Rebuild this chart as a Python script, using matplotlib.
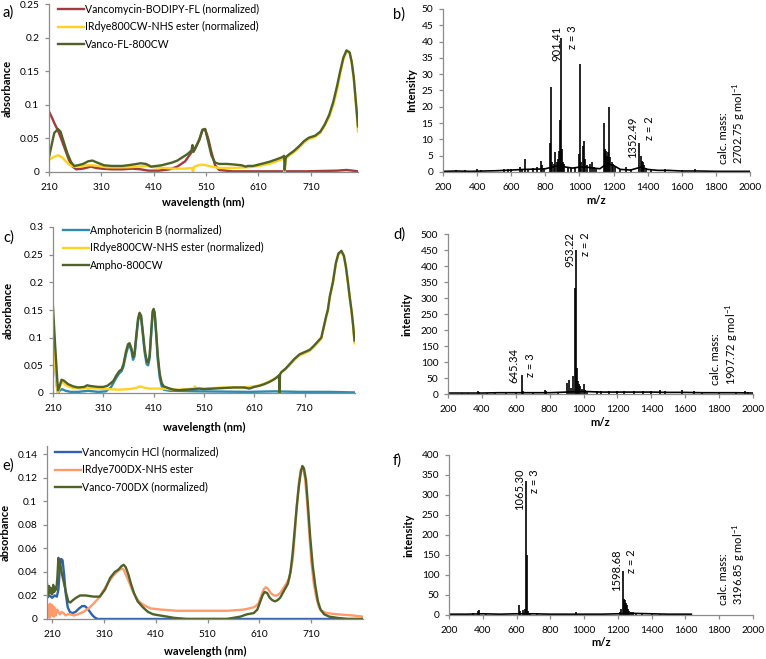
import matplotlib
matplotlib.use("Agg")
import matplotlib.pyplot as plt
from matplotlib.ticker import MultipleLocator, FuncFormatter

plt.rcParams['font.family'] = ['Lato', 'DejaVu Sans']
plt.rcParams['mathtext.default'] = 'regular'

# ------------------------------------------------------------
# colours
# ------------------------------------------------------------
GREEN = '#4F6228'
YELLOW = '#FFD21F'
RED = '#A23B3B'
TEAL = '#2E8BB0'
BLUE = '#2F62AE'
SALMON = '#FF9A6B'

# ------------------------------------------------------------
# a) UV-vis, Vanco-FL-800CW
# ------------------------------------------------------------
wl_a_red = [210, 215, 220, 227, 233, 240, 248, 255, 262, 275, 290, 300, 310, 330, 350,
            370, 385, 400, 420, 440, 455, 470, 480, 490, 497, 503, 508, 514, 520, 527,
            535, 560, 620, 700, 760, 778, 790, 800]
ab_a_red = [0.090, 0.082, 0.073, 0.062, 0.050, 0.035, 0.018, 0.008, 0.004, 0.005, 0.008,
            0.006, 0.005, 0.004, 0.004, 0.005, 0.004, 0.002, 0.002, 0.004, 0.008, 0.016,
            0.027, 0.037, 0.048, 0.062, 0.064, 0.050, 0.030, 0.010, 0.003, 0.001, 0.001,
            0.001, 0.002, 0.003, 0.002, 0.001]

wl_a_yel = [210, 218, 227, 235, 242, 250, 258, 265, 280, 292, 305, 320, 340, 360, 380,
            395, 410, 430, 450, 470, 483, 485, 487, 495, 503, 510, 520, 535, 560, 590,
            610, 630, 645, 655, 659, 660, 662, 668, 677, 687, 697, 706, 718, 728, 736,
            745, 753, 760, 766, 772, 778, 784, 788, 792, 796, 800]
ab_a_yel = [0.018, 0.022, 0.025, 0.022, 0.016, 0.010, 0.008, 0.008, 0.010, 0.010, 0.009,
            0.007, 0.007, 0.007, 0.008, 0.009, 0.007, 0.006, 0.005, 0.005, 0.006, 0.000,
            0.008, 0.010, 0.011, 0.010, 0.008, 0.006, 0.006, 0.007, 0.009, 0.012, 0.016,
            0.019, 0.020, 0.000, 0.020, 0.024, 0.029, 0.036, 0.044, 0.049, 0.052, 0.058,
            0.068, 0.082, 0.100, 0.122, 0.146, 0.167, 0.180, 0.177, 0.162, 0.138, 0.100,
            0.060]

wl_a_grn = [210, 215, 220, 227, 232, 238, 245, 252, 258, 265, 275, 285, 293, 302, 315,
            330, 350, 370, 385, 395, 405, 415, 425, 435, 445, 455, 465, 475, 482, 484,
            486, 490, 497, 503, 508, 514, 520, 527, 535, 550, 565, 578, 585, 590, 600,
            615, 630, 645, 655, 659, 660, 662, 668, 677, 687, 697, 706, 718, 728, 736,
            745, 753, 760, 766, 772, 778, 784, 788, 792, 796, 800]
ab_a_grn = [0.022, 0.040, 0.058, 0.064, 0.060, 0.045, 0.028, 0.015, 0.009, 0.010, 0.012,
            0.016, 0.017, 0.014, 0.010, 0.009, 0.009, 0.011, 0.013, 0.012, 0.008, 0.009,
            0.010, 0.012, 0.014, 0.017, 0.022, 0.027, 0.032, 0.040, 0.030, 0.036, 0.048,
            0.063, 0.064, 0.045, 0.025, 0.014, 0.012, 0.012, 0.011, 0.010, 0.008, 0.009,
            0.009, 0.012, 0.015, 0.019, 0.022, 0.024, 0.003, 0.022, 0.026, 0.031, 0.038,
            0.046, 0.051, 0.054, 0.060, 0.070, 0.085, 0.105, 0.128, 0.150, 0.170, 0.181,
            0.178, 0.164, 0.140, 0.104, 0.068]

# ------------------------------------------------------------
# c) UV-vis, Ampho-800CW
# ------------------------------------------------------------
wl_c_blu = [210, 214, 218, 220, 224, 228, 235, 245, 260, 280, 300, 315, 325, 330, 336,
            342, 346, 350, 355, 359, 362, 366, 369, 372, 375, 379, 382, 385, 388, 392,
            396, 399, 402, 405, 408, 410, 412, 415, 418, 422, 426, 430, 436, 442, 450,
            500, 600, 650, 700, 760, 810]
ab_c_blu = [0.100, 0.050, 0.010, 0.000, 0.005, 0.007, 0.004, 0.002, 0.002, 0.004, 0.002,
            0.003, 0.010, 0.018, 0.028, 0.036, 0.039, 0.048, 0.070, 0.083, 0.086, 0.076,
            0.060, 0.066, 0.095, 0.130, 0.140, 0.136, 0.110, 0.074, 0.052, 0.050, 0.063,
            0.105, 0.145, 0.150, 0.142, 0.105, 0.062, 0.028, 0.012, 0.006, 0.005, 0.004,
            0.004, 0.003, 0.002, 0.003, 0.002, 0.002, 0.001]

wl_c_yel = [210, 214, 218, 220, 224, 228, 233, 240, 250, 265, 280, 300, 320, 340, 360,
            375, 383, 390, 400, 420, 440, 450, 460, 475, 490, 492, 494, 510, 530, 550,
            570, 590, 610, 620, 630, 640, 650, 657, 659, 660, 661, 664, 672, 680, 690,
            700, 710, 720, 728, 735, 743, 748, 753, 756, 760, 766, 772, 777, 783, 788,
            792, 796, 800, 803, 806, 809]
ab_c_yel = [0.095, 0.050, 0.010, 0.000, 0.012, 0.020, 0.016, 0.012, 0.009, 0.008, 0.009,
            0.008, 0.007, 0.006, 0.007, 0.009, 0.012, 0.010, 0.008, 0.008, 0.007, 0.006,
            0.006, 0.007, 0.008, 0.012, 0.008, 0.008, 0.009, 0.010, 0.010, 0.010, 0.012,
            0.014, 0.017, 0.021, 0.026, 0.030, 0.031, 0.000, 0.033, 0.037, 0.043, 0.050,
            0.060, 0.068, 0.072, 0.076, 0.083, 0.090, 0.098, 0.118, 0.138, 0.148, 0.173,
            0.198, 0.233, 0.250, 0.255, 0.246, 0.226, 0.198, 0.168, 0.148, 0.122, 0.090]

wl_c_grn = [210, 214, 218, 220, 223, 227, 232, 240, 250, 260, 272, 278, 282, 290, 300,
            310, 318, 325, 330, 336, 342, 346, 350, 355, 359, 362, 366, 369, 372, 375,
            379, 382, 385, 388, 392, 396, 399, 402, 405, 408, 410, 412, 415, 418, 422,
            426, 430, 436, 442, 450, 460, 475, 490, 500, 510, 530, 550, 570, 590, 600,
            610, 620, 630, 640, 650, 657, 659, 660, 661, 664, 672, 680, 690, 700, 710,
            720, 728, 735, 743, 748, 753, 756, 760, 766, 772, 777, 783, 788, 792, 796,
            800, 803, 806, 809]
ab_c_grn = [0.155, 0.090, 0.030, 0.005, 0.012, 0.024, 0.022, 0.016, 0.012, 0.010, 0.011,
            0.014, 0.013, 0.012, 0.011, 0.011, 0.013, 0.018, 0.022, 0.032, 0.040, 0.042,
            0.052, 0.075, 0.088, 0.090, 0.080, 0.065, 0.072, 0.100, 0.135, 0.145, 0.140,
            0.115, 0.080, 0.058, 0.055, 0.068, 0.110, 0.148, 0.152, 0.145, 0.110, 0.070,
            0.035, 0.018, 0.012, 0.010, 0.008, 0.006, 0.005, 0.006, 0.007, 0.008, 0.007,
            0.008, 0.009, 0.010, 0.010, 0.008, 0.011, 0.013, 0.016, 0.020, 0.025, 0.030,
            0.032, 0.000, 0.034, 0.038, 0.044, 0.052, 0.062, 0.070, 0.074, 0.078, 0.085,
            0.092, 0.100, 0.120, 0.140, 0.150, 0.175, 0.200, 0.235, 0.252, 0.257, 0.248,
            0.228, 0.200, 0.170, 0.150, 0.125, 0.095]

# ------------------------------------------------------------
# e) UV-vis, Vanco-700DX
# ------------------------------------------------------------
wl_e_blu = [200, 205, 210, 215, 219, 222, 225, 227, 230, 233, 236, 240, 244, 249, 255,
            262, 268, 273, 278, 283, 288, 293, 298, 303, 320, 400, 500, 600, 700, 810]
ab_e_blu = [0.018, 0.020, 0.018, 0.020, 0.019, 0.025, 0.045, 0.051, 0.050, 0.038, 0.022,
            0.010, 0.006, 0.005, 0.006, 0.009, 0.011, 0.011, 0.009, 0.006, 0.003, 0.001,
            0.000, 0.000, 0.000, 0.000, 0.000, 0.000, 0.000, 0.000]

wl_e_sal = [200, 201, 202, 203, 204, 205, 206, 207, 208, 209, 210, 211, 212, 213, 214,
            215, 216, 217, 218, 220, 222, 225, 228, 232, 236, 240, 245, 252, 260, 270,
            280, 290, 300, 310, 320, 330, 338, 344, 348, 352, 358, 365, 372, 380, 390,
            400, 420, 450, 500, 550, 580, 600, 608, 614, 618, 622, 626, 632, 638, 644,
            650, 656, 662, 668, 674, 678, 682, 686, 690, 694, 698, 702, 706, 710, 715,
            720, 725, 730, 740, 760, 790, 810]
ab_e_sal = [0.008, 0.002, 0.012, 0.004, 0.010, 0.001, 0.013, 0.005, 0.011, 0.003, 0.012,
            0.004, 0.009, 0.002, 0.010, 0.004, 0.008, 0.003, 0.007, 0.008, 0.006, 0.004,
            0.006, 0.005, 0.003, 0.004, 0.004, 0.003, 0.004, 0.006, 0.009, 0.013, 0.018,
            0.025, 0.032, 0.038, 0.041, 0.043, 0.042, 0.038, 0.032, 0.024, 0.018, 0.014,
            0.011, 0.009, 0.008, 0.007, 0.007, 0.007, 0.008, 0.010, 0.013, 0.020, 0.025,
            0.027, 0.026, 0.022, 0.020, 0.020, 0.022, 0.026, 0.030, 0.035, 0.050, 0.070,
            0.095, 0.115, 0.127, 0.128, 0.120, 0.100, 0.075, 0.050, 0.030, 0.018, 0.010,
            0.007, 0.005, 0.004, 0.003, 0.002]

wl_e_grn = [200, 202, 204, 206, 208, 210, 212, 214, 216, 218, 220, 222, 225, 229, 233,
            237, 241, 245, 250, 256, 264, 275, 290, 302, 312, 322, 331, 338, 344, 348,
            352, 357, 362, 368, 375, 385, 395, 405, 418, 432, 445, 470, 520, 547, 560,
            573, 586, 599, 606, 611, 616, 620, 625, 630, 635, 640, 645, 650, 655, 660,
            665, 670, 674, 678, 682, 686, 690, 693, 696, 700, 704, 708, 713, 718, 723,
            728, 735, 745, 760, 780, 810]
ab_e_grn = [0.030, 0.020, 0.028, 0.022, 0.026, 0.021, 0.029, 0.023, 0.027, 0.025, 0.035,
            0.052, 0.048, 0.038, 0.030, 0.022, 0.015, 0.014, 0.016, 0.018, 0.020, 0.020,
            0.019, 0.019, 0.025, 0.035, 0.040, 0.042, 0.045, 0.046, 0.044, 0.038, 0.030,
            0.022, 0.015, 0.010, 0.006, 0.004, 0.003, 0.002, 0.001, 0.000, 0.000, 0.000,
            0.001, 0.002, 0.004, 0.005, 0.008, 0.014, 0.020, 0.023, 0.022, 0.018, 0.016,
            0.015, 0.016, 0.018, 0.022, 0.026, 0.030, 0.040, 0.055, 0.075, 0.095, 0.112,
            0.125, 0.130, 0.128, 0.118, 0.095, 0.070, 0.045, 0.028, 0.015, 0.008, 0.004,
            0.002, 0.001, 0.000, 0.000]

# ------------------------------------------------------------
# b) MS Vanco-FL-800CW
# ------------------------------------------------------------
mz_b_pk = [275, 330, 400, 420, 560, 580, 600, 650, 665, 682, 700, 725, 750, 772, 778,
           790, 828, 834, 840, 848, 858, 866, 872, 880, 886, 893, 899, 905, 912, 930,
           950, 975, 995, 1003, 1010, 1022, 1028, 1034, 1045, 1060, 1072, 1085, 1100,
           1142, 1147, 1152, 1158, 1164, 1170, 1176, 1182, 1190, 1198, 1210, 1240, 1275,
           1300, 1352, 1358, 1364, 1370, 1378, 1390, 1420, 1500, 1600, 1677, 1780]
int_b_pk = [0.5, 0.6, 1.0, 0.6, 0.8, 1.0, 0.8, 1.4, 1.0, 4.0, 1.0, 1.2, 1.5, 3.5, 2.2,
            1.2, 9.0, 26.0, 3.0, 2.5, 6.0, 3.0, 4.0, 6.5, 16.0, 41.0, 7.0, 3.0, 2.5, 1.5,
            1.2, 1.5, 5.5, 33.0, 3.0, 8.0, 9.5, 4.0, 2.0, 2.5, 3.0, 1.5, 1.2,
            15.0, 7.0, 5.5, 6.5, 5.0, 6.0, 20.0, 4.5, 3.0, 2.5, 1.5, 1.0, 1.5,
            0.8, 9.0, 5.0, 3.5, 3.0, 2.0, 1.2, 0.8, 0.8, 0.5, 1.0, 0.4]
mz_b_base = [200, 280, 360, 440, 520, 600, 680, 760, 800, 840, 880, 920, 960, 1000,
             1040, 1080, 1120, 1160, 1200, 1240, 1300, 1360, 1400, 1460, 1520, 1600,
             1700, 1800, 1900, 2000]
int_b_base = [0.2, 0.3, 0.2, 0.3, 0.4, 0.6, 0.8, 0.9, 1.0, 1.5, 2.0, 1.5, 1.2, 1.5,
              1.5, 1.2, 1.0, 2.5, 2.0, 0.8, 0.6, 1.5, 0.8, 0.5, 0.5, 0.3, 0.3, 0.2,
              0.2, 0.2]

# ------------------------------------------------------------
# d) MS Ampho-800CW
# ------------------------------------------------------------
mz_d_pk = [280, 320, 375, 380, 430, 480, 540, 600, 636, 640, 700, 775, 780, 850, 905,
           912, 925, 935, 947, 953, 960, 966, 972, 980, 990, 1000, 1010, 1020, 1080,
           1100, 1150, 1200, 1240, 1300, 1350, 1400, 1450, 1480, 1580, 1650, 1700,
           1800, 1900, 1950, 1970]
int_d_pk = [3, 4, 8, 5, 4, 4, 5, 6, 58, 8, 5, 12, 8, 5, 35, 45, 20, 55, 330, 450, 80,
            40, 30, 25, 15, 30, 12, 10, 10, 9, 8, 8, 10, 8, 9, 8, 12, 10, 14, 8, 7, 7,
            6, 8, 6]
mz_d_base = [200, 300, 400, 500, 600, 700, 800, 900, 1000, 1100, 1200, 1300, 1400,
             1500, 1600, 1700, 1800, 1900, 2000]
int_d_base = [3, 3, 3, 4, 4, 4, 4, 6, 8, 6, 6, 6, 6, 5, 5, 4, 4, 4, 3]

# ------------------------------------------------------------
# f) MS Vanco-700DX
# ------------------------------------------------------------
mz_f_pk = [340, 370, 378, 420, 500, 613, 618, 640, 652, 658, 662, 668, 680, 720, 800,
           950, 1000, 1210, 1220, 1231, 1236, 1241, 1246, 1252, 1258, 1265, 1275, 1290,
           1310, 1340, 1400, 1450, 1500, 1600]
int_f_pk = [6, 10, 13, 3, 3, 25, 10, 12, 15, 335, 150, 10, 6, 4, 3, 8, 3, 8, 15, 110,
            40, 38, 30, 25, 15, 10, 8, 7, 6, 4, 4, 3, 3, 2]
mz_f_base = [200, 300, 400, 500, 600, 700, 800, 900, 1000, 1100, 1200, 1300, 1400,
             1500, 1635]
int_f_base = [2, 2, 3, 2, 3, 3, 2, 2, 2, 2, 3, 4, 3, 2, 2]

# ------------------------------------------------------------
# figure layout (pixel boxes: left, top, right, bottom)
# ------------------------------------------------------------
W, H = 766, 659
fig = plt.figure(figsize=(W / 100, H / 100), dpi=100)
FS_TICK = 7.3
FS_LAB = 8
FS_LEG = 7.6


def ax_at(l, t, r, b):
    return fig.add_axes([l / W, 1 - b / H, (r - l) / W, (b - t) / H])


def excel_style(ax):
    for s in ['top', 'right']:
        ax.spines[s].set_visible(False)
    for s in ['left', 'bottom']:
        ax.spines[s].set_color('#8C8C8C')
        ax.spines[s].set_linewidth(0.9)
    ax.tick_params(axis='both', direction='out', length=3, width=0.9,
                   color='#8C8C8C', labelsize=FS_TICK, labelcolor='black')
    ax.tick_params(axis='x', pad=5)
    ax.tick_params(axis='y', pad=4)
    ax.yaxis.set_major_formatter(FuncFormatter(lambda v, p: f'{v:g}'))


def uv_panel(ax, xlim, ylim, ystep, series, lab_xy, leg_anchor):
    for wl, ab, col, lab in series:
        ax.plot(wl, ab, color=col, lw=1.7, label=lab, solid_joinstyle='round')
    ax.set_xlim(*xlim)
    ax.set_ylim(*ylim)
    ax.set_xticks([210, 310, 410, 510, 610, 710])
    ax.yaxis.set_major_locator(MultipleLocator(ystep))
    excel_style(ax)
    ax.set_xlabel('wavelength (nm)', fontsize=FS_LAB, fontweight='bold')
    ax.set_ylabel('absorbance', fontsize=FS_LAB, fontweight='bold')
    ax.xaxis.set_label_coords(0.5, lab_xy[1])
    ax.yaxis.set_label_coords(lab_xy[0], 0.5)
    ax.legend(loc='upper left', bbox_to_anchor=leg_anchor, frameon=False,
              fontsize=FS_LEG, handlelength=2.5, handletextpad=0.1,
              labelspacing=0.6, borderpad=0, borderaxespad=0)


def ms_panel(ax, mz_pk, int_pk, mz_base, int_base, ymax, ystep, ylabel, lab_xy,
             notes, calc):
    ax.plot(mz_base, int_base, color='black', lw=1.2)
    ax.vlines(mz_pk, 0, int_pk, color='black', lw=1.2)
    ax.set_xlim(200, 2000)
    ax.set_ylim(0, ymax)
    ax.xaxis.set_major_locator(MultipleLocator(200))
    ax.yaxis.set_major_locator(MultipleLocator(ystep))
    excel_style(ax)
    ax.set_xlabel('m/z', fontsize=FS_LAB, fontweight='bold')
    ax.set_ylabel(ylabel, fontsize=FS_LAB, fontweight='bold')
    ax.xaxis.set_label_coords(0.5, lab_xy[1])
    ax.yaxis.set_label_coords(lab_xy[0], 0.5)
    for x, y, txt in notes:
        ax.text(x, y, txt, rotation=90, ha='center', va='top', fontsize=8)
    ax.text(calc[0], calc[1], calc[2], rotation=90, ha='center', va='bottom',
            fontsize=8, multialignment='left', linespacing=1.15)


# a)
ax_a = ax_at(49, 4, 358, 172)
uv_panel(ax_a, (210, 800), (0, 0.25), 0.05,
         [(wl_a_red, ab_a_red, RED, 'Vancomycin-BODIPY-FL (normalized)'),
          (wl_a_yel, ab_a_yel, YELLOW, 'IRdye800CW-NHS ester (normalized)'),
          (wl_a_grn, ab_a_grn, GREEN, 'Vanco-FL-800CW')],
         (-0.117, -0.15), (0.029, 1.0))

# c)
ax_c = ax_at(53, 227, 355, 393)
uv_panel(ax_c, (210, 810), (0, 0.3), 0.05,
         [(wl_c_blu, ab_c_blu, TEAL, 'Amphotericin B (normalized)'),
          (wl_c_yel, ab_c_yel, YELLOW, 'IRdye800CW-NHS ester (normalized)'),
          (wl_c_grn, ab_c_grn, GREEN, 'Ampho-800CW')],
         (-0.13, -0.175), (0.033, 1.012))

# e)
ax_e = ax_at(47, 446, 363, 619)
uv_panel(ax_e, (200, 810), (0, 0.147), 0.02,
         [(wl_e_blu, ab_e_blu, BLUE, 'Vancomycin HCl (normalized)'),
          (wl_e_sal, ab_e_sal, SALMON, 'IRdye700DX-NHS ester'),
          (wl_e_grn, ab_e_grn, GREEN, 'Vanco-700DX (normalized)')],
         (-0.114, -0.153), (0.025, 0.995))

# b)
ax_b = ax_at(443, 9, 750, 172)
ms_panel(ax_b, mz_b_pk, int_b_pk, mz_b_base, int_b_base, 50, 5, 'Intensity',
         (-0.085, -0.14),
         [(865, 45, '901.41'), (962, 45, 'z = 3'), (1312, 17, '1352.49'), (1408, 17, 'z = 2')],
         (1898, 2.5, 'calc. mass:\n2702.75 g mol$^{-1}$'))

# d)
ax_d = ax_at(448, 234, 753, 394)
ms_panel(ax_d, mz_d_pk, int_d_pk, mz_d_base, int_d_base, 500, 50, 'intensity',
         (-0.115, -0.144),
         [(920, 505, '953.22'), (1010, 505, 'z = 2'), (588, 145, '645.34'), (685, 128, 'z = 3')],
         (1835, 28, 'calc. mass:\n1907.72 g mol$^{-1}$'))

# f)
ax_f = ax_at(449, 455, 753, 615)
ms_panel(ax_f, mz_f_pk, int_f_pk, mz_f_base, int_f_base, 400, 50, 'intensity',
         (-0.115, -0.1375),
         [(620, 365, '1065.30'), (705, 365, 'z = 3'), (1195, 163, '1598.68'), (1278, 163, 'z = 2')],
         (1880, 25, 'calc. mass:\n3196.85 g mol$^{-1}$'))

# panel letters
for x, y, s in [(3, 13, 'a)'), (393, 15, 'b)'), (3, 238, 'c)'), (393, 235, 'd)'),
                (2, 466, 'e)'), (393, 461, 'f)')]:
    fig.text(x / W, 1 - y / H, s, fontsize=10.5, va='center', ha='left')

plt.savefig('out.png', dpi=100)
plt.close()
